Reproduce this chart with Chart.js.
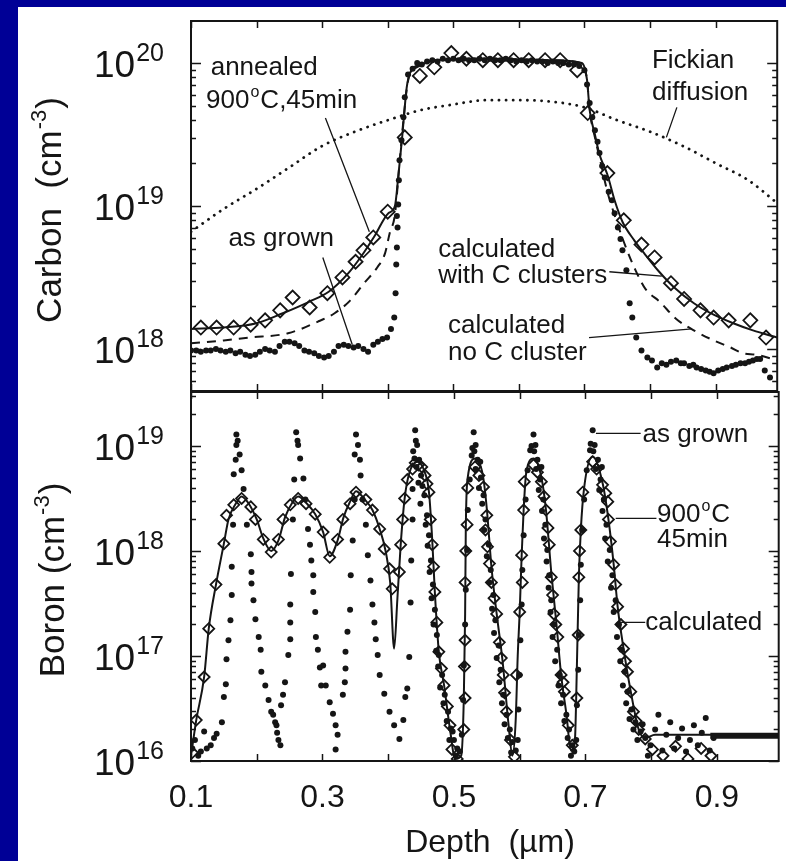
<!DOCTYPE html>
<html>
<head>
<meta charset="utf-8">
<title>Carbon and boron depth profiles</title>
<script src="https://cdn.jsdelivr.net/npm/chart.js@4.4.1/dist/chart.umd.min.js"></script>
<style>
  html, body { margin: 0; padding: 0; background: #000096; }
  #page { position: relative; width: 786px; height: 861px; overflow: hidden; }
  #paper { position: absolute; left: 18px; top: 7px; right: 0; bottom: 0; background: #fff; }
  canvas { position: absolute; left: 0; top: 0; }
</style>
</head>
<body>
<div id="page">
  <div id="paper"></div>
  <canvas id="carbonChart" width="786" height="861"></canvas>
  <canvas id="boronChart" width="786" height="861"></canvas>
</div>
<script>
// depth axis (um)
const DEPTH_MIN = 0.1;
const DEPTH_MAX = 0.994;
const depthTicks = [0.1, 0.2, 0.3, 0.4, 0.5, 0.6, 0.7, 0.8, 0.9];
const depthLabels = [0.1, 0.3, 0.5, 0.7, 0.9];

// concentration axes, in decades (log10 cm^-3)
const carbonRange = [17.706, 20.294];
const carbonDecades = [18, 19, 20];
const boronRange = [16, 19.514];
const boronDecades = [16, 17, 18, 19];

// ---- carbon profiles: [depth um, log10 concentration] ----
const carbonGrown = [
  [0.100,17.99],[0.108,17.99],[0.115,17.98],[0.123,17.99],[0.130,17.99],[0.138,18.00],[0.145,17.99],[0.153,17.98],
  [0.160,17.99],[0.168,17.97],[0.175,17.98],[0.183,17.96],[0.190,17.95],[0.198,17.96],[0.205,17.98],[0.213,18.00],
  [0.220,17.99],[0.228,17.98],[0.235,18.02],[0.243,18.05],[0.250,18.05],[0.258,18.04],[0.265,18.02],[0.273,17.99],
  [0.280,17.98],[0.288,17.97],[0.295,17.95],[0.303,17.94],[0.310,17.95],[0.318,17.98],[0.325,18.02],[0.333,18.03],
  [0.340,18.02],[0.348,18.01],[0.355,18.02],[0.363,18.00],[0.370,17.98],[0.378,18.03],[0.385,18.05],[0.392,18.07],
  [0.399,18.08],[0.405,18.14],[0.410,18.22],[0.412,18.39],[0.413,18.59],[0.414,18.71],[0.415,18.85],[0.414,18.93],
  [0.416,19.01],[0.417,19.18],[0.418,19.32],[0.421,19.46],[0.424,19.62],[0.426,19.76],[0.431,19.92],[0.438,19.96],
  [0.445,20.00],[0.452,19.99],[0.460,20.01],[0.468,20.02],[0.476,20.01],[0.484,20.03],[0.492,20.02],[0.500,20.03],
  [0.508,20.02],[0.516,20.03],[0.524,20.02],[0.532,20.02],[0.540,20.03],[0.548,20.02],[0.556,20.03],[0.564,20.02],
  [0.572,20.02],[0.580,20.03],[0.588,20.02],[0.596,20.01],[0.604,20.02],[0.612,20.01],[0.620,20.02],[0.628,20.01],
  [0.636,20.01],[0.644,20.00],[0.652,20.01],[0.660,20.00],[0.668,20.00],[0.676,19.99],[0.684,19.99],[0.692,19.98],
  [0.700,19.95],[0.704,19.85],[0.708,19.72],[0.712,19.62],[0.716,19.53],[0.720,19.45],[0.723,19.37],[0.727,19.28],
  [0.731,19.20],[0.737,19.10],[0.742,19.04],[0.746,18.95],[0.751,18.85],[0.755,18.77],[0.758,18.69],[0.764,18.55],
  [0.769,18.32],[0.773,18.22],[0.779,18.08],[0.787,17.99],[0.796,17.94],[0.803,17.92],[0.811,17.87],[0.818,17.90],
  [0.825,17.89],[0.832,17.91],[0.840,17.92],[0.847,17.90],[0.852,17.90],[0.860,17.88],[0.866,17.89],[0.871,17.87],
  [0.878,17.86],[0.885,17.85],[0.891,17.84],[0.897,17.83],[0.904,17.85],[0.911,17.86],[0.917,17.87],[0.925,17.88],
  [0.931,17.89],[0.938,17.90],[0.945,17.90],[0.951,17.91],[0.957,17.92],[0.963,17.93],[0.968,17.93],[0.975,17.85],
  [0.983,17.80]
];
const carbonAnnealed = [
  [0.115,18.15],[0.139,18.15],[0.165,18.15],[0.191,18.17],[0.213,18.20],[0.236,18.27],[0.255,18.36],[0.281,18.29],
  [0.308,18.39],[0.331,18.50],[0.351,18.61],[0.363,18.69],[0.378,18.78],[0.400,18.96],[0.426,19.48],[0.449,19.91],
  [0.471,19.97],[0.497,20.07],[0.520,20.03],[0.545,20.02],[0.568,20.02],[0.592,20.02],[0.615,20.02],[0.640,20.02],
  [0.663,20.02],[0.689,19.95],[0.705,19.65],[0.735,19.23],[0.760,18.90],[0.787,18.73],[0.807,18.64],[0.832,18.46],
  [0.852,18.35],[0.877,18.27],[0.897,18.22],[0.920,18.20],[0.953,18.20],[0.977,18.08]
];
const carbonCalcClusters = [
  [0.100,18.14],[0.150,18.15],[0.200,18.18],[0.240,18.25],[0.280,18.33],[0.310,18.40],[0.340,18.53],[0.360,18.65],
  [0.380,18.79],[0.401,18.95],[0.411,19.00],[0.416,19.20],[0.422,19.48],[0.429,19.83],[0.434,19.93],[0.444,19.97],
  [0.474,20.02],[0.550,20.03],[0.650,20.02],[0.696,20.00],[0.704,19.88],[0.708,19.67],[0.716,19.50],[0.723,19.36],
  [0.735,19.22],[0.746,19.04],[0.758,18.89],[0.776,18.76],[0.791,18.67],[0.814,18.54],[0.837,18.43],[0.867,18.32],
  [0.897,18.24],[0.927,18.18],[0.957,18.13],[0.994,18.08]
];
const carbonCalcNoCluster = [
  [0.100,18.04],[0.150,18.06],[0.188,18.08],[0.248,18.11],[0.293,18.19],[0.319,18.25],[0.343,18.34],[0.364,18.46],
  [0.384,18.57],[0.396,18.67],[0.403,18.81],[0.411,18.94],[0.418,19.30],[0.424,19.60],[0.430,19.85],[0.436,19.95],
  [0.444,19.98],[0.474,20.02],[0.550,20.03],[0.650,20.02],[0.696,20.00],[0.704,19.88],[0.708,19.67],[0.716,19.48],
  [0.725,19.30],[0.735,19.10],[0.745,18.95],[0.760,18.75],[0.778,18.55],[0.793,18.42],[0.815,18.33],[0.840,18.21],
  [0.871,18.12],[0.897,18.06],[0.923,18.01],[0.942,17.97],[0.962,17.96],[0.994,17.92]
];
const carbonFickian = [
  [0.100,18.82],[0.150,18.98],[0.200,19.12],[0.250,19.27],[0.300,19.42],[0.350,19.52],[0.400,19.60],[0.450,19.67],
  [0.500,19.71],[0.550,19.74],[0.600,19.74],[0.650,19.73],[0.700,19.69],[0.750,19.60],[0.800,19.52],[0.850,19.42],
  [0.900,19.30],[0.950,19.18],[0.994,19.02]
];

// ---- boron profiles: [depth um, log10 concentration] ----
const boronGrown = [
  [0.102,16.12],[0.106,16.20],[0.111,16.05],[0.115,16.09],[0.120,16.28],[0.124,16.12],[0.130,16.15],[0.135,16.22],
  [0.139,16.26],[0.147,16.37],[0.150,16.61],[0.153,16.73],[0.154,16.97],[0.157,17.15],[0.160,17.34],[0.162,17.58],
  [0.162,17.85],[0.164,18.25],[0.165,18.73],[0.168,18.87],[0.169,19.01],[0.169,19.11],[0.171,19.05],[0.174,18.92],
  [0.177,18.77],[0.180,18.59],[0.185,18.25],[0.191,17.97],[0.192,17.80],[0.192,17.69],[0.195,17.53],[0.198,17.35],
  [0.203,17.18],[0.206,17.06],[0.207,16.85],[0.213,16.72],[0.218,16.58],[0.222,16.47],[0.225,16.44],[0.228,16.37],
  [0.230,16.34],[0.231,16.27],[0.233,16.20],[0.236,16.15],[0.237,16.53],[0.240,16.63],[0.243,16.75],[0.248,17.01],
  [0.251,17.16],[0.251,17.32],[0.251,17.49],[0.252,17.78],[0.255,18.30],[0.257,18.68],[0.260,19.13],[0.262,19.05],
  [0.263,19.01],[0.266,18.88],[0.271,18.69],[0.274,18.49],[0.278,18.21],[0.281,18.06],[0.283,17.91],[0.286,17.77],
  [0.286,17.61],[0.289,17.42],[0.290,17.18],[0.293,17.06],[0.296,16.89],[0.298,16.72],[0.301,16.91],[0.305,16.72],
  [0.311,16.56],[0.316,16.45],[0.320,16.34],[0.320,16.11],[0.323,16.25],[0.331,16.63],[0.334,16.75],[0.335,16.88],
  [0.335,17.04],[0.338,17.23],[0.342,17.44],[0.343,17.77],[0.346,18.10],[0.349,18.49],[0.349,18.92],[0.351,19.11],
  [0.354,19.01],[0.357,18.87],[0.358,18.72],[0.361,18.49],[0.366,18.25],[0.369,17.96],[0.373,17.72],[0.376,17.49],
  [0.379,17.32],[0.381,17.16],[0.384,17.01],[0.387,16.82],[0.394,16.64],[0.402,16.47],[0.409,16.34],[0.417,16.21],
  [0.423,16.39],[0.426,16.61],[0.429,16.69],[0.432,16.99],[0.434,17.51],[0.435,17.91],[0.437,18.30],[0.437,18.59],
  [0.440,18.88],[0.441,19.15],[0.444,19.01],[0.447,18.87],[0.450,18.72],[0.455,18.53],[0.459,18.34],[0.462,18.15],
  [0.465,17.91],[0.468,17.68],[0.471,17.44],[0.474,17.20],[0.477,17.01],[0.482,16.82],[0.486,16.63],[0.491,16.47],
  [0.495,16.31],[0.500,16.20],[0.505,16.12],[0.509,16.09],[0.512,16.25],[0.514,16.58],[0.515,16.91],[0.517,17.30],
  [0.518,17.63],[0.520,18.01],[0.521,18.39],[0.524,18.68],[0.527,18.91],[0.530,19.13],[0.533,19.01],[0.536,18.87],
  [0.541,18.70],[0.545,18.53],[0.548,18.30],[0.553,18.06],[0.556,17.82],[0.560,17.58],[0.563,17.34],[0.568,17.10],
  [0.571,16.87],[0.575,16.63],[0.580,16.44],[0.585,16.30],[0.589,16.18],[0.594,16.10],[0.597,16.20],[0.598,16.49],
  [0.600,16.82],[0.601,17.15],[0.603,17.49],[0.604,17.82],[0.606,18.15],[0.609,18.49],[0.612,18.77],[0.616,18.96],
  [0.621,19.11],[0.624,19.01],[0.627,18.87],[0.631,18.68],[0.636,18.49],[0.639,18.25],[0.642,18.01],[0.645,17.77],
  [0.648,17.53],[0.652,17.30],[0.657,17.06],[0.661,16.82],[0.666,16.63],[0.671,16.44],[0.675,16.30],[0.680,16.15],
  [0.683,16.09],[0.686,16.20],[0.687,16.53],[0.689,16.87],[0.690,17.20],[0.692,17.53],[0.693,17.87],[0.695,18.20],
  [0.698,18.49],[0.702,18.77],[0.707,18.96],[0.711,19.15],[0.714,19.01],[0.719,18.87],[0.723,18.68],[0.728,18.49],
  [0.732,18.25],[0.737,18.01],[0.741,17.77],[0.746,17.53],[0.751,17.30],[0.755,17.06],[0.760,16.85],[0.764,16.66],
  [0.770,16.49],[0.776,16.37],[0.784,16.28],[0.791,16.22],[0.799,16.15],[0.806,16.30],[0.811,16.44],[0.817,16.10],
  [0.823,16.25],[0.829,16.37],[0.835,16.12],[0.841,16.22],[0.847,16.31],[0.853,16.09],[0.859,16.20],[0.865,16.34],
  [0.871,16.15],[0.877,16.27],[0.883,16.41],[0.889,16.10],[0.895,16.22],
  // second scan of the four narrow peaks
  [0.438,18.95],[0.442,19.05],[0.443,18.80],[0.446,18.65],[0.449,18.45],[0.452,18.62],[0.457,18.25],[0.460,18.05],
  [0.463,17.80],[0.466,17.55],[0.469,17.30],[0.473,17.05],[0.476,16.90],[0.479,16.70],[0.484,16.55],[0.489,16.38],
  [0.493,16.20],[0.498,16.28],[0.503,16.05],
  [0.528,18.98],[0.531,18.95],[0.533,18.78],[0.538,18.60],[0.540,18.85],[0.543,18.45],[0.546,18.20],[0.550,17.95],
  [0.554,17.70],[0.558,17.45],[0.561,17.22],[0.565,16.98],[0.569,16.75],[0.573,16.55],[0.577,16.35],[0.582,16.22],
  [0.587,16.08],
  [0.618,19.00],[0.622,18.95],[0.625,18.78],[0.629,18.58],[0.633,18.80],[0.634,18.38],[0.637,18.12],[0.641,17.90],
  [0.644,17.65],[0.647,17.42],[0.650,17.18],[0.654,16.95],[0.659,16.72],[0.663,16.55],[0.668,16.38],[0.673,16.22],
  [0.678,16.05],
  [0.708,19.02],[0.712,18.95],[0.716,18.78],[0.721,18.58],[0.725,18.80],[0.726,18.38],[0.730,18.12],[0.734,17.90],
  [0.739,17.65],[0.743,17.42],[0.748,17.18],[0.753,16.95],[0.757,16.72],[0.762,16.55],[0.767,16.40],[0.773,16.30],
  [0.779,16.20],[0.787,16.35],[0.795,16.05]
];
const boronAnnealed = [
  [0.102,16.08],[0.108,16.39],[0.120,16.80],[0.127,17.26],[0.138,17.68],[0.150,18.07],[0.154,18.34],[0.165,18.44],
  [0.177,18.50],[0.191,18.42],[0.198,18.30],[0.210,18.11],[0.222,17.99],[0.233,18.11],[0.240,18.30],[0.251,18.44],
  [0.263,18.50],[0.275,18.45],[0.289,18.35],[0.301,18.18],[0.311,17.94],[0.323,18.11],[0.331,18.30],[0.342,18.45],
  [0.351,18.56],[0.366,18.49],[0.376,18.39],[0.387,18.21],[0.394,18.02],[0.402,17.83],[0.406,17.64],[0.417,17.80],
  [0.419,18.06],[0.422,18.30],[0.425,18.50],[0.429,18.68],[0.437,18.78],[0.446,18.82],[0.456,18.72],[0.462,18.56],
  [0.464,18.30],[0.467,18.06],[0.471,17.61],[0.474,17.32],[0.477,17.04],[0.485,16.72],[0.494,16.34],[0.497,16.11],
  [0.505,16.02],[0.515,16.30],[0.517,16.60],[0.517,17.15],[0.517,17.70],[0.520,18.25],[0.521,18.60],[0.532,18.80],
  [0.545,18.61],[0.550,18.34],[0.551,18.04],[0.557,17.70],[0.565,17.40],[0.569,17.13],[0.575,16.82],[0.580,16.47],
  [0.586,16.20],[0.592,16.04],[0.595,16.82],[0.600,17.42],[0.603,17.96],[0.606,18.39],[0.607,18.66],[0.621,18.82],
  [0.633,18.66],[0.640,18.39],[0.645,18.06],[0.648,17.75],[0.652,17.40],[0.658,17.18],[0.663,16.82],[0.668,16.66],
  [0.674,16.34],[0.680,16.15],[0.687,16.60],[0.689,17.20],[0.690,17.75],[0.693,18.20],[0.696,18.56],[0.711,18.85],
  [0.726,18.63],[0.734,18.47],[0.735,18.30],[0.738,18.09],[0.743,17.87],[0.746,17.68],[0.749,17.47],[0.754,17.30],
  [0.758,17.07],[0.764,16.85],[0.769,16.66],[0.773,16.47],[0.781,16.30],[0.791,16.21],[0.802,16.11],[0.818,16.05],
  [0.837,16.14],[0.856,16.02],[0.876,16.12],[0.891,16.05],
  [0.441,18.84],[0.451,18.80],[0.459,18.64],[0.469,17.85],[0.481,16.88],[0.490,16.52],
  [0.538,18.72],[0.548,18.20],[0.554,17.88],[0.561,17.55],[0.572,16.98],[0.577,16.65],[0.518,18.00],[0.516,16.90],
  [0.627,18.75],[0.637,18.52],[0.643,18.22],[0.650,17.58],[0.655,17.30],[0.666,16.75],[0.604,17.70],
  [0.717,18.78],[0.731,18.55],[0.761,16.95],[0.777,16.38],[0.691,18.00]
];
const boronCalc = [
  [0.100,16.05],[0.108,16.39],[0.120,16.80],[0.127,17.26],[0.138,17.68],[0.150,18.07],[0.157,18.30],[0.168,18.45],
  [0.177,18.52],[0.188,18.45],[0.200,18.30],[0.210,18.12],[0.222,18.00],[0.233,18.10],[0.243,18.32],[0.254,18.46],
  [0.263,18.52],[0.275,18.46],[0.289,18.35],[0.301,18.18],[0.311,17.95],[0.323,18.10],[0.332,18.32],[0.342,18.47],
  [0.351,18.57],[0.363,18.50],[0.376,18.39],[0.387,18.21],[0.396,18.00],[0.403,17.70],[0.409,17.07],[0.414,17.55],
  [0.419,18.06],[0.425,18.50],[0.432,18.74],[0.444,18.85],[0.455,18.76],[0.462,18.56],[0.467,18.10],[0.471,17.60],
  [0.477,17.04],[0.485,16.72],[0.494,16.30],[0.502,16.02],[0.511,16.05],[0.515,16.60],[0.517,17.40],[0.518,18.20],
  [0.521,18.70],[0.532,18.88],[0.544,18.72],[0.550,18.40],[0.557,17.85],[0.565,17.40],[0.574,16.95],[0.583,16.35],
  [0.589,16.05],[0.594,16.40],[0.597,17.00],[0.600,17.42],[0.603,17.96],[0.606,18.39],[0.610,18.75],[0.621,18.88],
  [0.633,18.70],[0.640,18.39],[0.648,17.80],[0.656,17.30],[0.663,16.82],[0.671,16.45],[0.678,16.10],[0.684,16.20],
  [0.687,16.90],[0.690,17.75],[0.693,18.20],[0.698,18.60],[0.711,18.90],[0.726,18.65],[0.735,18.30],[0.743,17.87],
  [0.749,17.47],[0.758,17.07],[0.769,16.66],[0.781,16.30],[0.791,16.22],[0.806,16.25],[0.892,16.25],[0.994,16.25]
];
const boronBackground = [[0.890,16.24],[0.994,16.24]];

// ---- labels ----
const carbonNotes = [
  { at: [0.130, 19.916], runs: ['annealed'] },
  { at: [0.123, 19.685], runs: ['900', { sup: 'o' }, 'C,45min'] },
  { at: [0.157, 18.72], runs: ['as grown'] },
  { at: [0.803, 19.965], runs: ['Fickian'] },
  { at: [0.803, 19.74], runs: ['diffusion'] },
  { at: [0.477, 18.643], runs: ['calculated'] },
  { at: [0.477, 18.46], runs: ['with C clusters'] },
  { at: [0.492, 18.11], runs: ['calculated'] },
  { at: [0.492, 17.92], runs: ['no C cluster'] }
];
const carbonLeaders = [
  [[0.305, 19.615], [0.372, 18.82]],
  [[0.301, 18.64], [0.346, 18.03]],
  [[0.841, 19.69], [0.825, 19.48]],
  [[0.738, 18.54], [0.818, 18.51]],
  [[0.707, 18.08], [0.864, 18.14]]
];
const boronNotes = [
  { at: [0.787, 19.04], runs: ['as grown'] },
  { at: [0.809, 18.28], runs: ['900', { sup: 'o' }, 'C'] },
  { at: [0.809, 18.04], runs: ['45min'] },
  { at: [0.791, 17.25], runs: ['calculated'] }
];
const boronLeaders = [
  [[0.716, 19.12], [0.784, 19.12]],
  [[0.746, 18.31], [0.808, 18.31]],
  [[0.749, 17.32], [0.791, 17.32]]
];

const FONT = '"Liberation Sans", Arial, Helvetica, sans-serif';
const INK = '#151515';

const toPoints = rows => rows.map(([d, e]) => ({ x: d, y: Math.pow(10, e) }));

// text made of plain runs and raised {sup} runs
function runsWidth(ctx, runs, size, supRatio) {
  let w = 0;
  runs.forEach(r => {
    if (typeof r === 'string') {
      ctx.font = `${size}px ${FONT}`;
      w += ctx.measureText(r).width;
    } else {
      ctx.font = `${Math.round(size * supRatio)}px ${FONT}`;
      w += ctx.measureText(r.sup).width + 2;
    }
  });
  return w;
}

function drawRuns(ctx, runs, x, y, size, supRatio = 0.62, rise = 0.42) {
  let cx = x;
  runs.forEach(r => {
    if (typeof r === 'string') {
      ctx.font = `${size}px ${FONT}`;
      ctx.fillText(r, cx, y);
      cx += ctx.measureText(r).width;
    } else {
      ctx.font = `${Math.round(size * supRatio)}px ${FONT}`;
      ctx.fillText(r.sup, cx + 1, y - size * rise);
      cx += ctx.measureText(r.sup).width + 2;
    }
  });
}

// frame, inward ticks, decade labels, notes and titles for one panel
function makePanel(cfg) {
  return {
    id: 'panel',
    afterDatasetsDraw(chart) {
      const { ctx, chartArea: a } = chart;
      const xs = chart.scales.x, ys = chart.scales.y;
      ctx.save();
      ctx.strokeStyle = INK;
      ctx.fillStyle = INK;
      ctx.textAlign = 'left';
      ctx.textBaseline = 'alphabetic';

      ctx.lineWidth = 2;
      ctx.strokeRect(a.left, a.top, a.right - a.left, a.bottom - a.top);

      ctx.lineWidth = 1.5;
      ctx.beginPath();
      depthTicks.forEach(d => {
        const px = Math.round(xs.getPixelForValue(d)) + 0.5;
        ctx.moveTo(px, a.top); ctx.lineTo(px, a.top + 7);
        ctx.moveTo(px, a.bottom); ctx.lineTo(px, a.bottom - 7);
      });
      const lo = Math.floor(Math.log10(ys.min)), hi = Math.ceil(Math.log10(ys.max));
      for (let e = lo; e <= hi; e++) {
        for (let m = 1; m <= 9; m++) {
          const v = m * Math.pow(10, e);
          if (v < ys.min || v > ys.max) continue;
          const py = Math.round(ys.getPixelForValue(v)) + 0.5;
          const len = m === 1 ? 10 : 5;
          ctx.moveTo(a.left, py); ctx.lineTo(a.left + len, py);
          ctx.moveTo(a.right, py); ctx.lineTo(a.right - len, py);
        }
      }
      ctx.stroke();

      // 10^n labels
      cfg.decades.forEach(e => {
        const runs = ['10', { sup: String(e) }];
        const py = ys.getPixelForValue(Math.pow(10, e));
        const w = runsWidth(ctx, runs, 37, 0.68);
        drawRuns(ctx, runs, a.left - 26 - w, py + 14, 37, 0.68, 0.42);
      });

      // leader lines and notes
      ctx.lineWidth = 1.3;
      ctx.beginPath();
      cfg.leaders.forEach(([p, q]) => {
        ctx.moveTo(xs.getPixelForValue(p[0]), ys.getPixelForValue(Math.pow(10, p[1])));
        ctx.lineTo(xs.getPixelForValue(q[0]), ys.getPixelForValue(Math.pow(10, q[1])));
      });
      ctx.stroke();
      cfg.notes.forEach(n => {
        drawRuns(ctx, n.runs, xs.getPixelForValue(n.at[0]), ys.getPixelForValue(Math.pow(10, n.at[1])), 26);
      });

      // rotated axis title
      ctx.save();
      ctx.translate(cfg.title.x, cfg.title.y);
      ctx.rotate(-Math.PI / 2);
      const tw = runsWidth(ctx, cfg.title.runs, 35, 0.62);
      drawRuns(ctx, cfg.title.runs, -tw / 2, 12.5, 35);
      ctx.restore();

      if (cfg.depthAxis) {
        ctx.textAlign = 'center';
        ctx.font = `32px ${FONT}`;
        depthLabels.forEach(d => {
          ctx.fillText(d.toFixed(1), xs.getPixelForValue(d), a.bottom + 46);
        });
        ctx.fillText('Depth  (\u00b5m)', 490, 852);
      }
      ctx.restore();
    }
  };
}

function panelOptions(pad, range) {
  return {
    responsive: false,
    animation: false,
    devicePixelRatio: 1,
    events: [],
    layout: { padding: pad },
    plugins: { legend: { display: false }, tooltip: { enabled: false } },
    scales: {
      x: { type: 'linear', display: false, min: DEPTH_MIN, max: DEPTH_MAX },
      y: { type: 'logarithmic', display: false, min: Math.pow(10, range[0]), max: Math.pow(10, range[1]) }
    }
  };
}

const dots = (rows, order) => ({
  data: toPoints(rows), order, showLine: false,
  pointStyle: 'circle', pointRadius: 3, pointBackgroundColor: INK, pointBorderWidth: 0
});
const diamonds = (rows, order, r) => ({
  data: toPoints(rows), order, showLine: false,
  pointStyle: 'rectRot', pointRadius: r, pointBackgroundColor: 'rgba(0,0,0,0)',
  pointBorderColor: INK, pointBorderWidth: 1.8
});
const curve = (rows, order, extra) => Object.assign({
  data: toPoints(rows), order, showLine: true, pointRadius: 0,
  borderColor: INK, borderWidth: 2, cubicInterpolationMode: 'monotone'
}, extra || {});

// =====================
// CARBON PANEL
// =====================
new Chart(document.getElementById('carbonChart'), {
  type: 'scatter',
  data: {
    datasets: [
      dots(carbonGrown, 0),
      diamonds(carbonAnnealed, 1, 7),
      curve(carbonCalcClusters, 2),
      curve(carbonCalcNoCluster, 3, { borderDash: [9, 7] }),
      curve(carbonFickian, 4, { borderDash: [0.1, 7], borderWidth: 2.8, borderCapStyle: 'round' })
    ]
  },
  options: panelOptions({ left: 191, top: 21, right: 3, bottom: 470 }, carbonRange),
  plugins: [makePanel({
    decades: carbonDecades,
    notes: carbonNotes,
    leaders: carbonLeaders,
    title: { x: 48, y: 210, runs: ['Carbon  (cm', { sup: '-3' }, ')'] },
    depthAxis: false
  })]
});

// =====================
// BORON PANEL
// =====================
new Chart(document.getElementById('boronChart'), {
  type: 'scatter',
  data: {
    datasets: [
      dots(boronGrown, 0),
      diamonds(boronAnnealed, 1, 5.5),
      curve(boronCalc, 2),
      curve(boronBackground, 3, { borderWidth: 6, cubicInterpolationMode: 'default', borderCapStyle: 'butt' })
    ]
  },
  options: panelOptions({ left: 191, top: 392, right: 3, bottom: 100 }, boronRange),
  plugins: [makePanel({
    decades: boronDecades,
    notes: boronNotes,
    leaders: boronLeaders,
    title: { x: 51, y: 580, runs: ['Boron (cm', { sup: '-3' }, ')'] },
    depthAxis: true
  })]
});
</script>
</body>
</html>
